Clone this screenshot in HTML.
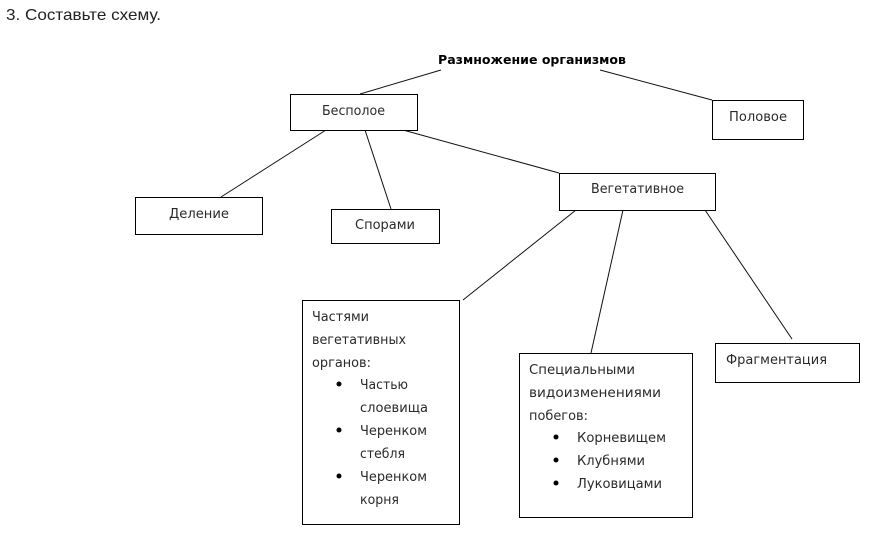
<!DOCTYPE html>
<html lang="ru">
<head>
<meta charset="utf-8">
<style>
html,body{margin:0;padding:0;background:#fff;width:869px;height:538px;overflow:hidden}
svg{display:block}
text{font-family:"DejaVu Sans","Liberation Sans",sans-serif;font-size:13px;fill:#2a2a2a}
.h{font-family:"Liberation Sans",sans-serif;font-size:16px;fill:#222}
.b{font-weight:bold;font-size:12.5px;fill:#000}
rect{fill:#fff;stroke:#000;stroke-width:1}
line{stroke:#111;stroke-width:1}
circle{fill:#000}
</style>
</head>
<body>
<svg width="869" height="538" viewBox="0 0 869 538" xmlns="http://www.w3.org/2000/svg">
<text class="h" x="6" y="20" textLength="155" lengthAdjust="spacingAndGlyphs">3. Составьте схему.</text>
<text class="b" x="438" y="64" textLength="188" lengthAdjust="spacingAndGlyphs">Размножение организмов</text>

<line x1="441" y1="70" x2="360" y2="94"/>
<line x1="600" y1="70" x2="712" y2="100"/>
<line x1="326" y1="130" x2="221" y2="197"/>
<line x1="365" y1="130" x2="391" y2="209"/>
<line x1="403" y1="130" x2="559" y2="173"/>
<line x1="576" y1="210" x2="463" y2="300"/>
<line x1="623" y1="210" x2="591" y2="353"/>
<line x1="705" y1="210" x2="792" y2="339"/>

<rect x="290.5" y="94.5" width="127" height="36"/>
<rect x="135.5" y="197.5" width="127" height="37"/>
<rect x="331.5" y="209.5" width="108" height="34"/>
<rect x="559.5" y="173.5" width="156" height="37"/>
<rect x="712.5" y="100.5" width="91" height="39"/>
<rect x="302.5" y="300.5" width="157" height="224"/>
<rect x="519.5" y="353.5" width="173" height="164"/>
<rect x="715.5" y="343.5" width="144" height="39"/>

<text x="322" y="115" textLength="63" lengthAdjust="spacingAndGlyphs">Бесполое</text>
<text x="169" y="218" textLength="60" lengthAdjust="spacingAndGlyphs">Деление</text>
<text x="355" y="229" textLength="60" lengthAdjust="spacingAndGlyphs">Спорами</text>
<text x="591" y="193" textLength="93" lengthAdjust="spacingAndGlyphs">Вегетативное</text>
<text x="729" y="121" textLength="58" lengthAdjust="spacingAndGlyphs">Половое</text>
<text x="726" y="364" textLength="101" lengthAdjust="spacingAndGlyphs">Фрагментация</text>

<text x="312" y="321" textLength="57" lengthAdjust="spacingAndGlyphs">Частями</text>
<text x="312" y="344" textLength="94" lengthAdjust="spacingAndGlyphs">вегетативных</text>
<text x="312" y="367" textLength="59" lengthAdjust="spacingAndGlyphs">органов:</text>
<circle cx="339" cy="384" r="2.5"/>
<text x="360" y="389" textLength="48" lengthAdjust="spacingAndGlyphs">Частью</text>
<text x="360" y="412" textLength="68" lengthAdjust="spacingAndGlyphs">слоевища</text>
<circle cx="339" cy="430" r="2.5"/>
<text x="360" y="435" textLength="67" lengthAdjust="spacingAndGlyphs">Черенком</text>
<text x="360" y="458" textLength="45" lengthAdjust="spacingAndGlyphs">стебля</text>
<circle cx="339" cy="476" r="2.5"/>
<text x="360" y="481" textLength="67" lengthAdjust="spacingAndGlyphs">Черенком</text>
<text x="360" y="504" textLength="39" lengthAdjust="spacingAndGlyphs">корня</text>

<text x="529" y="374" textLength="106" lengthAdjust="spacingAndGlyphs">Специальными</text>
<text x="529" y="397" textLength="132" lengthAdjust="spacingAndGlyphs">видоизменениями</text>
<text x="529" y="420" textLength="59" lengthAdjust="spacingAndGlyphs">побегов:</text>
<circle cx="556" cy="437" r="2.5"/>
<text x="577" y="442" textLength="89" lengthAdjust="spacingAndGlyphs">Корневищем</text>
<circle cx="556" cy="460" r="2.5"/>
<text x="577" y="465" textLength="68" lengthAdjust="spacingAndGlyphs">Клубнями</text>
<circle cx="556" cy="483" r="2.5"/>
<text x="577" y="488" textLength="85" lengthAdjust="spacingAndGlyphs">Луковицами</text>
</svg>
</body>
</html>
